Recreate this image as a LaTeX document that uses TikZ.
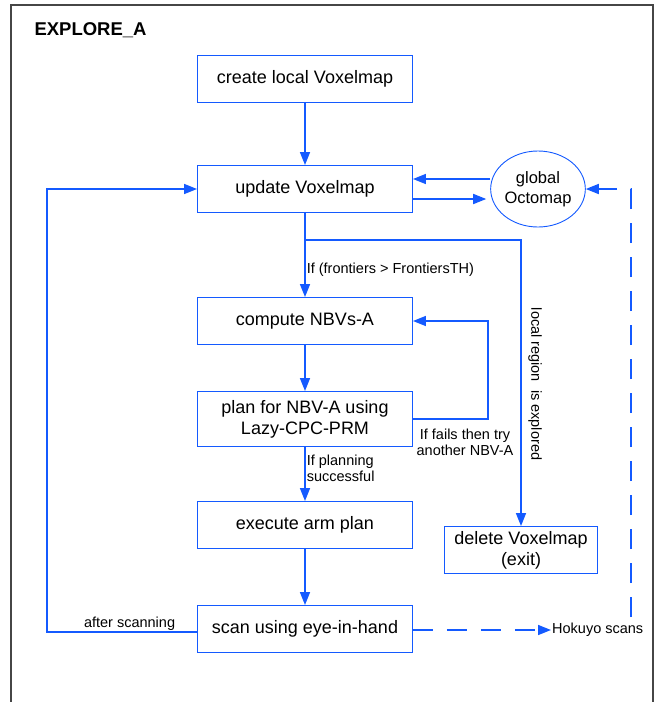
\documentclass[tikz,border=0pt]{standalone}
\usepackage{fontspec}
\setmainfont{Liberation Sans}
\usetikzlibrary{arrows.meta,shapes.geometric}
\definecolor{flowblue}{RGB}{20,90,255}
\definecolor{framegray}{RGB}{70,70,70}

\tikzset{
  box/.style={draw=flowblue, line width=0.9pt, minimum width=215pt, minimum height=47pt,
    align=center, inner sep=0pt, font=\fontsize{18}{21}\selectfont},
  flow/.style={draw=flowblue, line width=1.6pt, -{Triangle[length=13pt,width=10pt]}},
  note/.style={font=\fontsize{14.5}{16}\selectfont, inner sep=1pt}
}

\begin{document}
\begin{tikzpicture}[x=1pt,y=-1pt]
    \useasboundingbox (0,0) rectangle (661,702);
    \draw[framegray, line width=1.5pt] (11,702) -- (11,5) -- (653,5) -- (653,702);
    \node[anchor=west, font=\bfseries\fontsize{18.5}{21}\selectfont] (title) at (31,30) {EXPLORE\_A};

    % main column
    \node[box] (create) at (305,79) {create local Voxelmap};
    \node[box] (update) at (305,189) {update Voxelmap};
    \node[box] (compute) at (305,321) {compute NBVs-A};
    \node[box, minimum height=55pt] (plan) at (305,419) {plan for NBV-A using\\Lazy-CPC-PRM};
    \node[box] (execute) at (305,525) {execute arm plan};
    \node[box] (scan) at (305,629) {scan using eye-in-hand};

    % side nodes
    \node[draw=flowblue, line width=0.9pt, ellipse, minimum width=92pt, minimum height=76pt,
      inner sep=0pt, align=center, font=\fontsize{16.5}{20}\selectfont] (octo) at (538,189) {global\\Octomap};
    \node[box, minimum width=153pt] (delete) at (521,550) {delete Voxelmap\\(exit)};
    \node[note, anchor=west] (hokuyo) at (551,630) {Hokuyo scans};
    \node[note, rotate=-90] (explored) at (535,384) {local region\ \ is explored};
    \node[note, align=center] (retrylbl) at (465,442) {If fails then try\\another NBV-A};
    \coordinate (split) at (305,240);
    \coordinate (hk) at (631,617);

    % connectors
    \draw[flow] (create) -- (update);
    \draw[flow] ([yshift=10pt]octo.west) -- ([yshift=10pt]update.east);
    \draw[flow, shorten >=4pt] ([yshift=-10pt]update.east) -- ([yshift=-10pt]octo.west);
    \draw[flow] (update) -- node[note, right, pos=0.68, align=left] {If (frontiers > FrontiersTH)} (compute);
    \draw[flow] (split) -| (delete);
    \draw[flow] (compute) -- (plan);
    \draw[flow] (plan.east) -- ++(75,0) |- (compute.east);
    \draw[flow] (plan) -- node[note, right, pos=0.4, align=left] {If planning\\successful} (execute);
    \draw[flow] (execute) -- (scan);
    \draw[flow] ([yshift=-3pt]scan.west) -- node[note, above, pos=0.45] {after scanning} ++(-150,0) |- (update.west);
    \draw[flow, dash pattern=on 20pt off 14pt] (scan.east |- hokuyo.west) -- (hokuyo.west);
    \draw[flow, dash pattern=on 20pt off 14pt] (hk) |- (octo.east);
\end{tikzpicture}
\end{document}
